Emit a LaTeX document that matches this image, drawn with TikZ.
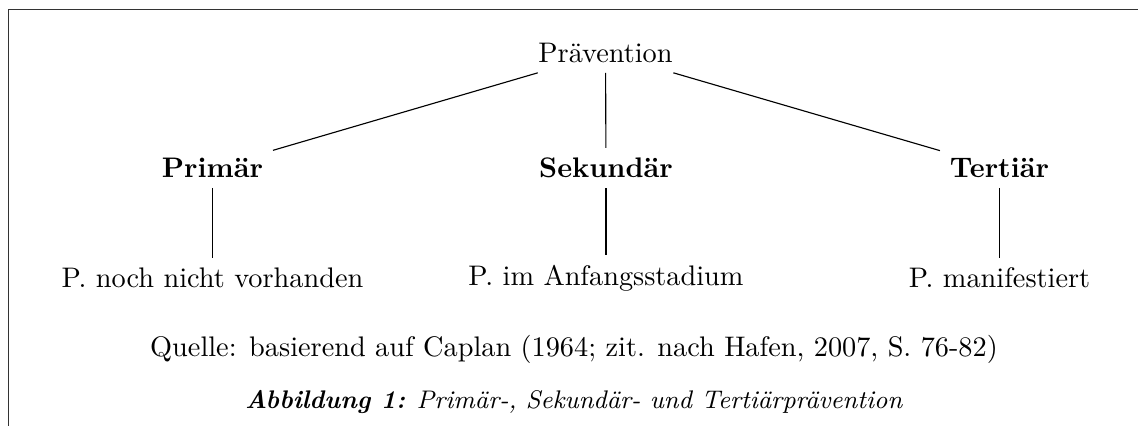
\documentclass[tikz,border=0pt]{standalone}
\usepackage{fontspec}
\setmainfont{Latin Modern Roman}
\begin{document}
\begin{tikzpicture}[x=0.3534pt,y=-0.3534pt,
  every node/.style={inner sep=0.3333em},
  levelone/.style={font=\bfseries},
  branch/.style={draw=black,line width=0.4pt},
  framebar/.style={draw=black!80,line width=0.55pt}]
  \useasboundingbox (0,0) rectangle (1138,426);
  % partial frame
  \draw[framebar] (1140,9.5) -- (8.5,9.5) -- (8.5,428);

  % root
  \node (root) at (605.5,53) {Prävention};
  % first level
  \node[levelone] (prim) at (212.5,168) {Primär};
  \node[levelone] (sek)  at (606,168)   {Sekundär};
  \node[levelone] (tert) at (999.5,168) {Tertiär};
  % second level
  \node (primc) at (212.5,278) {P. noch nicht vorhanden};
  \node (sekc)  at (606,278)   {P. im Anfangsstadium};
  \node (tertc) at (999.5,278) {P. manifestiert};

  \draw[branch] (root) -- (prim);
  \draw[branch] (root) -- (sek);
  \draw[branch] (root) -- (tert);
  \draw[branch] (prim) -- (primc);
  \draw[branch] (sek) -- (sekc);
  \draw[branch] (tert) -- (tertc);

  % source and caption
  \node[anchor=base] (src) at (574,357)
    {Quelle: basierend auf Caplan (1964; zit. nach Hafen, 2007, S. 76-82)};
  \node[anchor=base,font=\small] (cap) at (574,409)
    {\textbf{\textit{Abbildung 1:}} \textit{Primär-, Sekundär- und Tertiärprävention}};
\end{tikzpicture}
\end{document}
